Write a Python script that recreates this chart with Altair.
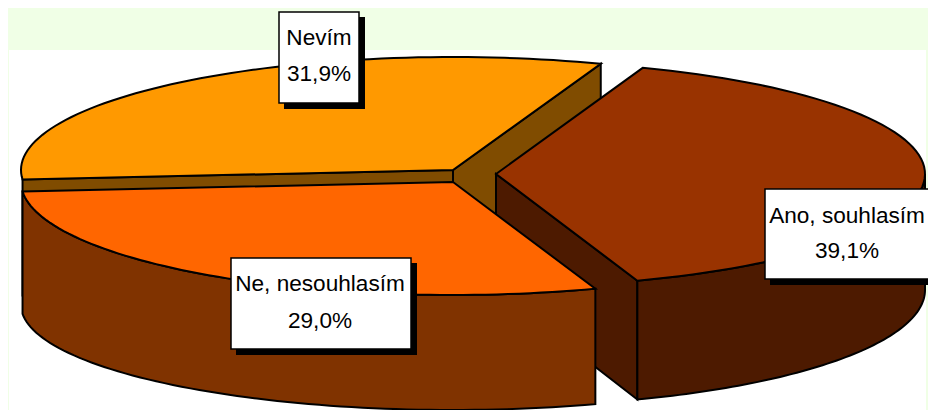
import math
import altair as alt

# ---- data ----
categories = ["Nevím", "Ano, souhlasím", "Ne, nesouhlasím"]
shares = [31.9, 39.1, 29.0]
top_colors = ["#FF9900", "#993300", "#FF6600"]
wall_colors = ["#804C00", "#4D1A00", "#803300"]

# ---- projection of the tilted pie (page pixels) ----
START_ANGLE = 184.84         # degrees, slices run clockwise
RX = [432, 429, 432]
RY = 113
CENTERS = [(453, 170), (496, 174), (453, 182)]
DEPTH_CENTERS = [(453, 286), (496, 290), (453, 305)]
DEPTH_RY = [113, 116, 105]
PANEL = (9, 50, 926, 420)
BG = "#F0FFE6"
LABEL_BOXES = [(279, 12, 359, 103), (765, 189, 960, 279), (231, 258, 411, 349)]
LABEL_CENTER_X = [319, 847, 320]
LABEL_BASELINES = [(45, 81), (223, 258), (291, 328)]
SHADOW = (5, 6)

angles = [START_ANGLE]
for s in shares:
    angles.append(angles[-1] - s * 3.6)


def pt(c, rx, ry, a):
    r = math.radians(a)
    return [c[0] + rx * math.cos(r), c[1] - ry * math.sin(r)]


def arc(c, rx, ry, a0, a1, n=70):
    return [pt(c, rx, ry, a0 + (a1 - a0) * k / n) for k in range(n + 1)]


def feat(ring, fill, sw=2.0, stroke="#000000"):
    ring = ring + [ring[0]]
    return {
        "type": "Feature",
        "geometry": {"type": "Polygon", "coordinates": [ring]},
        "properties": {"fill": fill, "stroke": stroke, "sw": sw},
    }


def cut_face(i, a):
    """Flat cut of slice i along the radius at angle a."""
    c, d = CENTERS[i], DEPTH_CENTERS[i]
    return feat([list(c), pt(c, RX[i], RY, a), pt(d, RX[i], DEPTH_RY[i], a), list(d)], wall_colors[i])


def wall(i, a0, a1):
    top_arc = arc(CENTERS[i], RX[i], RY, a0, a1)
    bottom = arc(DEPTH_CENTERS[i], RX[i], DEPTH_RY[i], a1, a0)
    return feat(top_arc + bottom, wall_colors[i])


def top(i):
    return feat([list(CENTERS[i])] + arc(CENTERS[i], RX[i], RY, angles[i], angles[i + 1]), top_colors[i])


features = [feat([[PANEL[0], PANEL[1]], [PANEL[2], PANEL[1]], [PANEL[2], PANEL[3]], [PANEL[0], PANEL[3]]],
                 "#FFFFFF", 0, "#FFFFFF")]
# Nevím
features += [cut_face(0, angles[0]), cut_face(0, angles[1]), top(0)]
# Ano, souhlasím
features += [cut_face(1, angles[2]), wall(1, 0, angles[2]), top(1)]
# Ne, nesouhlasím
features += [wall(2, angles[2], angles[3]), top(2)]
# label boxes with drop shadows
for (x0, y0, x1, y1) in LABEL_BOXES:
    features.append(feat([[x0 + SHADOW[0], y0 + SHADOW[0]], [x1 + SHADOW[1], y0 + SHADOW[0]],
                          [x1 + SHADOW[1], y1 + SHADOW[1]], [x0 + SHADOW[0], y1 + SHADOW[1]]],
                         "#000000", 0, "#000000"))
    features.append(feat([[x0, y0], [x1, y0], [x1, y1], [x0, y1]], "#FFFFFF", 1.5))

shapes = alt.Chart(alt.Data(values=features)).mark_geoshape(strokeJoin="miter").encode(
    fill=alt.Fill("properties.fill:N", scale=None, legend=None),
    stroke=alt.Stroke("properties.stroke:N", scale=None, legend=None),
    strokeWidth=alt.StrokeWidth("properties.sw:Q", scale=None, legend=None),
).project(type="identity", scale=1, translate=[-8, -8])

rows = []
for name, share, cx, (b1, b2) in zip(categories, shares, LABEL_CENTER_X, LABEL_BASELINES):
    rows.append({"t": name, "x": cx, "y": b1})
    rows.append({"t": f"{share:.1f}%".replace(".", ","), "x": cx, "y": b2})

texts = alt.Chart(alt.Data(values=rows)).mark_text(
    font="Liberation Sans", fontSize=22.6, color="#000000", align="center", baseline="alphabetic"
).encode(
    x=alt.X("x:Q", scale=alt.Scale(domain=[8, 928]), axis=None),
    y=alt.Y("y:Q", scale=alt.Scale(domain=[410, 8]), axis=None),
    text="t:N",
)

chart = alt.layer(shapes, texts).resolve_scale(x="independent", y="independent").properties(
    width=920, height=402, background=BG, padding=0,
    autosize=alt.AutoSizeParams(type="none"),
).configure_view(stroke=None)

chart.save("out.html", embed_options={"renderer": "svg", "actions": False})
